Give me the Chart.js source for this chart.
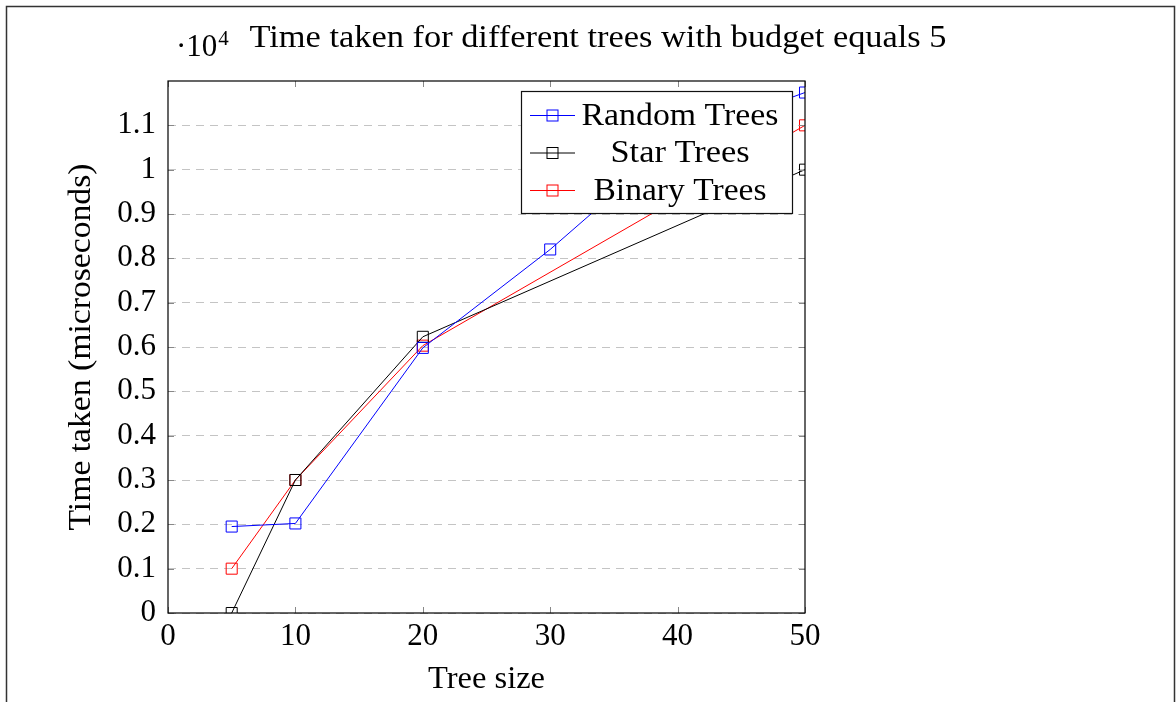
<!DOCTYPE html>
<html>
<head>
<meta charset="utf-8">
<script src="https://cdn.jsdelivr.net/npm/chart.js@4.4.1/dist/chart.umd.min.js"></script>
<style>
  html, body { margin: 0; padding: 0; background: #fff; }
  #wrap { width: 1176px; height: 702px; position: relative; }
</style>
</head>
<body>
<div id="wrap"><canvas id="c" width="1176" height="702"></canvas></div>
<script>
// ---- data ----
const chartTitle = 'Time taken for different trees with budget equals 5';
const xAxisTitle = 'Tree size';
const yAxisTitle = 'Time taken (microseconds)';
const yScaleNote = '\u00B710';
const yScaleExp = '4';

const seriesNames = ['Random Trees', 'Star Trees', 'Binary Trees'];
const seriesColors = ['#0000ff', '#000000', '#ff0000'];

const randomX = [5, 10, 20, 30, 40, 50];
const randomY = [1950, 2020, 5980, 8200, 10700, 11740];
const starX = [5, 10, 20, 50];
const starY = [0, 3000, 6230, 10000];
const binaryX = [5, 10, 20, 50];
const binaryY = [1000, 3000, 6030, 11000];

const xTickLabels = ['0', '10', '20', '30', '40', '50'];
const yTickLabels = ['0', '0.1', '0.2', '0.3', '0.4', '0.5', '0.6', '0.7', '0.8', '0.9', '1', '1.1'];

const FONT = '"Liberation Serif", "DejaVu Serif", serif';
const FS = 31;

function pts(xs, ys) { return xs.map((x, i) => ({ x: x, y: ys[i] })); }
const seriesData = [pts(randomX, randomY), pts(starX, starY), pts(binaryX, binaryY)];

const datasets = seriesNames.map((name, i) => ({
  label: name,
  data: seriesData[i],
  borderColor: seriesColors[i],
  backgroundColor: 'rgba(0,0,0,0)',
  borderWidth: 1,
  pointStyle: 'rect',
  pointRadius: 7.8,
  pointBorderWidth: 1,
  pointBorderColor: seriesColors[i],
  pointBackgroundColor: 'rgba(0,0,0,0)',
  tension: 0,
  order: i
}));

// draw text centred at cx, stretched horizontally to span roughly "target" px
function fitText(ctx, text, cx, cy, target) {
  const w = ctx.measureText(text).width;
  const sx = Math.max(1, Math.min(1.25, target / w));
  ctx.save();
  ctx.translate(cx, cy);
  ctx.scale(sx, 1);
  ctx.textAlign = 'center';
  ctx.fillText(text, 0, 0);
  ctx.restore();
}

const decor = {
  id: 'decor',
  afterDraw(chart) {
    const ctx = chart.ctx;
    const a = chart.chartArea;
    const xs = chart.scales.x, ys = chart.scales.y;
    ctx.save();
    // inner tick marks
    ctx.strokeStyle = '#888';
    ctx.lineWidth = 1;
    ctx.setLineDash([]);
    xs.ticks.forEach(t => {
      const px = Math.round(xs.getPixelForValue(t.value)) + 0.5;
      ctx.beginPath();
      ctx.moveTo(px, a.bottom); ctx.lineTo(px, a.bottom - 6);
      ctx.moveTo(px, a.top); ctx.lineTo(px, a.top + 6);
      ctx.stroke();
    });
    ys.ticks.forEach(t => {
      const py = Math.round(ys.getPixelForValue(t.value)) + 0.5;
      ctx.beginPath();
      ctx.moveTo(a.left, py); ctx.lineTo(a.left + 6, py);
      ctx.moveTo(a.right, py); ctx.lineTo(a.right - 6, py);
      ctx.stroke();
    });
    // plot frame
    ctx.strokeStyle = '#000';
    ctx.lineWidth = 1.2;
    ctx.strokeRect(a.left, a.top, a.right - a.left, a.bottom - a.top);

    // legend
    const lx = 521, ly = 91, lw = 271, lh = 122;
    ctx.fillStyle = '#fff';
    ctx.fillRect(lx, ly, lw, lh);
    ctx.strokeStyle = '#111';
    ctx.lineWidth = 1.2;
    ctx.strokeRect(lx + 0.5, ly + 0.5, lw, lh);
    const rows = [115.5, 153, 190.5];
    const legendWidths = [197, 139, 173];
    chart.data.datasets.forEach((ds, i) => {
      const y = rows[i];
      ctx.strokeStyle = ds.borderColor;
      ctx.lineWidth = 1;
      ctx.beginPath();
      ctx.moveTo(530, y); ctx.lineTo(575, y);
      ctx.stroke();
      ctx.strokeRect(547, y - 5.5, 11, 11);
      ctx.fillStyle = '#000';
      ctx.font = FS + 'px ' + FONT;
      ctx.textBaseline = 'alphabetic';
      fitText(ctx, ds.label, 680, y + 9, legendWidths[i]);
    });

    // title
    ctx.fillStyle = '#000';
    ctx.font = FS + 'px ' + FONT;
    ctx.textBaseline = 'alphabetic';
    fitText(ctx, chartTitle, 598, 47, 697);
    // x axis title
    fitText(ctx, xAxisTitle, (a.left + a.right) / 2, 688, 117);
    // y axis title
    ctx.save();
    ctx.translate(90, (a.top + a.bottom) / 2);
    ctx.rotate(-Math.PI / 2);
    fitText(ctx, yAxisTitle, 0, 0, 367);
    ctx.restore();
    // scale note
    ctx.textAlign = 'left';
    ctx.font = FS + 'px ' + FONT;
    ctx.fillText(yScaleNote, 176, 56);
    const w = ctx.measureText(yScaleNote).width;
    ctx.font = '21px ' + FONT;
    ctx.fillText(yScaleExp, 176 + w + 1, 45);

    // outer page frame
    ctx.strokeStyle = '#333';
    ctx.lineWidth = 1.5;
    ctx.beginPath();
    ctx.moveTo(6.5, 702); ctx.lineTo(6.5, 6.5); ctx.lineTo(1174.5, 6.5); ctx.lineTo(1174.5, 702);
    ctx.stroke();
    ctx.restore();
  }
};

new Chart(document.getElementById('c'), {
  type: 'line',
  data: { datasets: datasets },
  options: {
    responsive: false,
    animation: false,
    events: [],
    layout: { padding: { left: 0, top: 81, right: 371, bottom: 0 } },
    plugins: { legend: { display: false }, title: { display: false }, tooltip: { enabled: false } },
    scales: {
      x: {
        type: 'linear',
        min: 0, max: 50,
        afterFit(s) { s.height = 89; },
        grid: { display: false, drawTicks: false },
        border: { display: false },
        ticks: {
          stepSize: 10,
          padding: 5,
          color: '#000',
          font: { family: FONT, size: FS },
          maxRotation: 0,
          callback: (v, i) => xTickLabels[i]
        }
      },
      y: {
        type: 'linear',
        min: 0, max: 12000,
        afterFit(s) { s.width = 168; },
        afterBuildTicks(s) { s.ticks = s.ticks.filter(t => t.value <= 11000); },
        grid: { color: '#c4c4c4', lineWidth: 1, drawTicks: false },
        border: { display: false, dash: [8, 6] },
        ticks: {
          stepSize: 1000,
          padding: 12,
          color: '#000',
          font: { family: FONT, size: FS },
          callback: (v, i) => yTickLabels[i]
        }
      }
    }
  },
  plugins: [decor]
});
</script>
</body>
</html>
